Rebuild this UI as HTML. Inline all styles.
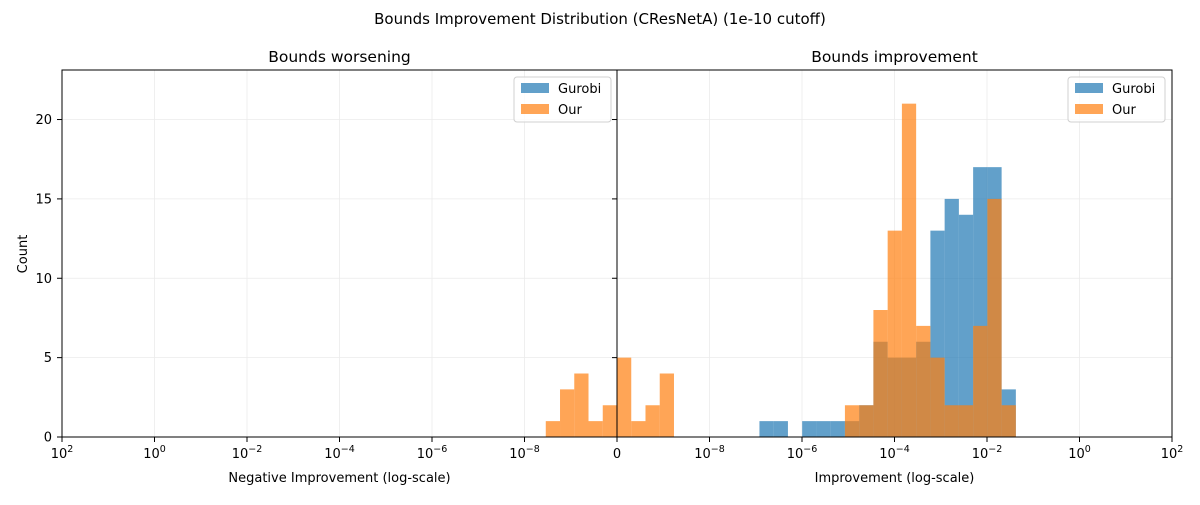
<!DOCTYPE html>
<html><head><meta charset="utf-8"><style>
body{margin:0;background:#fff}
svg text{font-family:"DejaVu Sans","Liberation Sans",sans-serif;fill:#000}
</style></head><body>
<svg id="chart" width="1200" height="500" xmlns="http://www.w3.org/2000/svg">
<text x="600" y="24" font-size="15" text-anchor="middle">Bounds Improvement Distribution (CResNetA) (1e-10 cutoff)</text>
<g id="layer"></g>
</svg>
<script>
const binStartLog = -10;
const binWidthLog = 0.308;
const leftOur = [2,1,4,3,1];
const rightGurobi = [0,0,0,0,0,0,0,0,0,0,1,1,0,1,1,1,1,2,6,5,5,6,13,15,14,17,17,3];
const rightOur = [5,1,2,4,0,0,0,0,0,0,0,0,0,0,0,0,2,2,8,13,21,7,5,2,2,7,15,2];
const yTicks = [0,5,10,15,20];
const leftTickExps = [2,0,-2,-4,-6,-8];
const rightTickExps = [-8,-6,-4,-2,0,2];

const NS="http://www.w3.org/2000/svg";
const g=document.getElementById('layer');
const yTop=70,bot=437,yMax=23.12,decPx=46.25;
const L={x0:62,x1:617},R={x0:617,x1:1172};
function y(v){return bot-v*(bot-yTop)/yMax;}
function xl(l){return 617-(l+10)*decPx;}
function xr(l){return 617+(l+10)*decPx;}
function el(tag,attrs,parent){const e=document.createElementNS(NS,tag);for(const k in attrs)e.setAttribute(k,attrs[k]);(parent||g).appendChild(e);return e;}

[L,R].forEach(p=>{
  yTicks.forEach(t=>{const e=el('line',{x1:p.x0,x2:p.x1,y1:y(t),y2:y(t),stroke:'#ebebeb','stroke-width':0.8});
    
    });
});
leftTickExps.forEach(ex=>{const e=el('line',{x1:xl(ex),x2:xl(ex),y1:yTop,y2:bot,stroke:'#ebebeb','stroke-width':0.8});
  
  });
rightTickExps.forEach(ex=>{const e=el('line',{x1:xr(ex),x2:xr(ex),y1:yTop,y2:bot,stroke:'#ebebeb','stroke-width':0.8});
  
  });

leftOur.forEach((c,k)=>{if(!c)return;const a=xl(binStartLog+(k+1)*binWidthLog),b=xl(binStartLog+k*binWidthLog);
  const r=el('rect',{x:a,y:y(c),width:b-a,height:bot-y(c),fill:'#ff7f0e','fill-opacity':0.7});
  
  });
rightGurobi.forEach((c,k)=>{if(!c)return;const a=xr(binStartLog+k*binWidthLog),b=xr(binStartLog+(k+1)*binWidthLog);
  const r=el('rect',{x:a,y:y(c),width:b-a,height:bot-y(c),fill:'#1f77b4','fill-opacity':0.7});
  
  });
rightOur.forEach((c,k)=>{if(!c)return;const a=xr(binStartLog+k*binWidthLog),b=xr(binStartLog+(k+1)*binWidthLog);
  const r=el('rect',{x:a,y:y(c),width:b-a,height:bot-y(c),fill:'#ff7f0e','fill-opacity':0.7});
  
  });

[L,R].forEach(p=>{const f=el('rect',{x:p.x0,y:yTop,width:p.x1-p.x0,height:bot-yTop,fill:'none',stroke:'#000','stroke-width':1});
  
  });

yTicks.forEach(t=>{
  el('line',{x1:57,x2:62,y1:y(t),y2:y(t),stroke:'#000'});
  el('line',{x1:612,x2:617,y1:y(t),y2:y(t),stroke:'#000'});
  const tx=el('text',{x:52,y:y(t)+4.5,'font-size':13,'text-anchor':'end'});tx.textContent=t;
  
  
});
function expLabel(x,ex,name){
  el('line',{x1:x,x2:x,y1:bot,y2:bot+5,stroke:'#000'});
  const t=el('text',{x:x,y:bot+21,'font-size':13,'text-anchor':'middle'});
  
  
  const a=document.createElementNS(NS,'tspan');a.textContent='10';t.appendChild(a);
  const b=document.createElementNS(NS,'tspan');b.setAttribute('dy','-6');b.setAttribute('font-size','9.5');b.textContent=(ex<0?'\u2212'+(-ex):''+ex);t.appendChild(b);
}
leftTickExps.forEach(ex=>expLabel(xl(ex),ex,'x-tick-label-left'));
rightTickExps.forEach(ex=>expLabel(xr(ex),ex,'x-tick-label-right'));
[617].forEach(x=>{el('line',{x1:x,x2:x,y1:bot,y2:bot+5,stroke:'#000'});
  const t=el('text',{x:x,y:bot+21,'font-size':13,'text-anchor':'middle'});t.textContent='0';
  
  });
el('line',{x1:1172,x2:1172,y1:bot,y2:bot+5,stroke:'#000'});

function txt(x,yy,s,name,extra){const t=el('text',Object.assign({x:x,y:yy,'font-size':13,'text-anchor':'middle'},extra||{}));t.textContent=s;
  
  return t;}
txt(339.5,62,'Bounds worsening','left-panel-title',{'font-size':15.5});
txt(894.5,62,'Bounds improvement','right-panel-title',{'font-size':15.5});
txt(339.5,482,'Negative Improvement (log-scale)','left-x-axis-title');
txt(894.5,482,'Improvement (log-scale)','right-x-axis-title');
txt(27,254,'Count','y-axis-title',{transform:'rotate(-90 27 254)'});

function legend(x0,name){
  const lg=el('g',{});
  
  
  el('rect',{x:x0,y:77,width:97,height:45,rx:3,fill:'#fff','fill-opacity':0.8,stroke:'#d0d0d0'},lg);
  el('rect',{x:x0+7,y:83,width:28,height:10,fill:'#1f77b4','fill-opacity':0.7},lg);
  el('rect',{x:x0+7,y:104,width:28,height:10,fill:'#ff7f0e','fill-opacity':0.7},lg);
  const a=el('text',{x:x0+44,y:93,'font-size':13},lg);a.textContent='Gurobi';
  
  
  const b=el('text',{x:x0+44,y:114,'font-size':13},lg);b.textContent='Our';
  
  
}
legend(514,'left-legend');
legend(1068,'right-legend');
</script>
</body></html>
